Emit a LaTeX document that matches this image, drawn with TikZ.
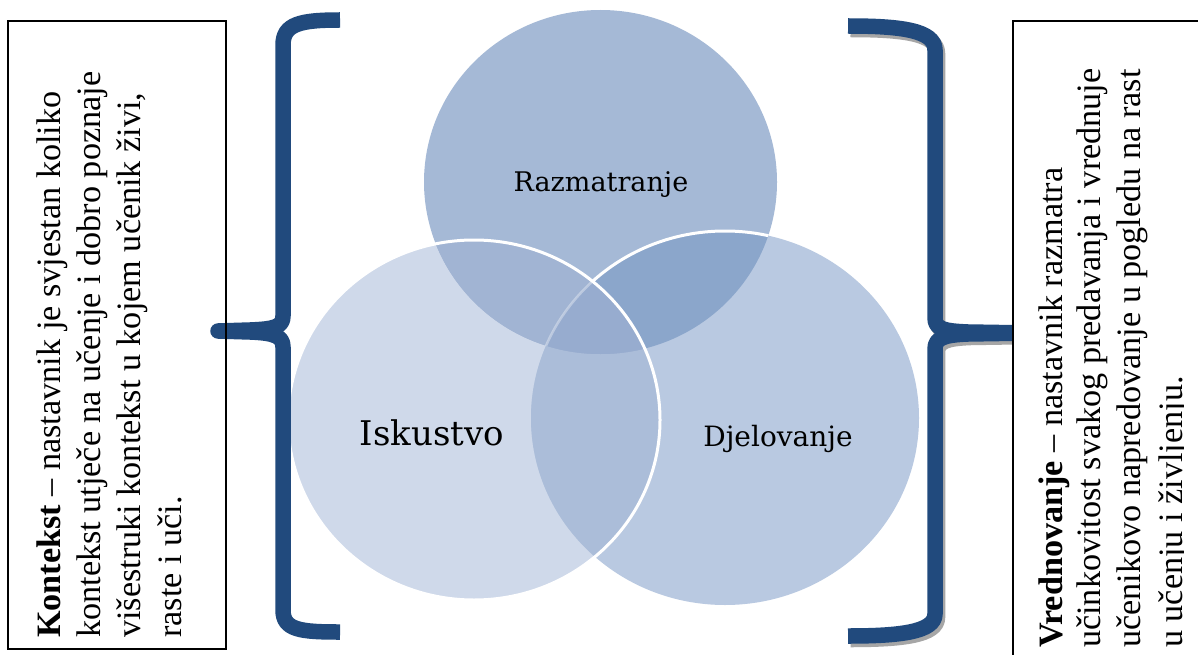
\documentclass[tikz,border=0pt]{standalone}
\usepackage{fontspec}
\setmainfont{Liberation Serif}
\newfontfamily\lblfont{DejaVu Serif}
\definecolor{braceblue}{RGB}{33,74,125}
\definecolor{shadowgray}{RGB}{166,166,166}
\definecolor{cT}{HTML}{A5B9D6}
\definecolor{cL}{HTML}{CFD9EA}
\definecolor{cR}{HTML}{B9C9E1}
\definecolor{cTL}{HTML}{A1B4D3}
\definecolor{cTR}{HTML}{8BA6CB}
\definecolor{cLR}{HTML}{ABBDD9}
\definecolor{cTLR}{HTML}{97ACCF}
\begin{document}
\begin{tikzpicture}[x=1pt,y=-1pt,
  bracestroke/.style={line width=15.5pt,line cap=butt,line join=round},
  boxtext/.style={rotate=90,anchor=base west,inner sep=0pt,font=\fontsize{34.2}{40}\selectfont},
  lbl/.style={anchor=base,inner sep=0pt,text=black},
  boxframe/.style={draw=black,line width=1.8pt}]
\useasboundingbox (0,0) rectangle (1198,655);
\fill[white] (0,0) rectangle (1198,655);
% ellipse definitions
\def\Tpath{(600.5,182) ellipse [x radius=176.5pt, y radius=172pt]}
\def\Lpath{(474,420) ellipse [x radius=186pt, y radius=180pt]}
\def\Rpath{(725,418) ellipse [x radius=194pt, y radius=187pt]}
% base fills
\fill[cT] \Tpath;
\fill[cL] \Lpath;
\fill[cR] \Rpath;
\begin{scope}\clip \Tpath; \fill[cTL] \Lpath; \end{scope}
\begin{scope}\clip \Tpath; \fill[cTR] \Rpath; \end{scope}
\begin{scope}\clip \Lpath; \fill[cLR] \Rpath; \end{scope}
\begin{scope}\clip \Tpath; \clip \Lpath; \fill[cTLR] \Rpath; \end{scope}
% white outline of right circle over top circle
\begin{scope}\clip \Tpath; \draw[white,line width=3pt] \Rpath; \end{scope}
% restore inside left circle
\begin{scope}\clip \Tpath; \clip \Lpath; \fill[cTL] \Lpath; \end{scope}
\begin{scope}\clip \Tpath; \clip \Lpath; \fill[cTLR] \Rpath; \end{scope}
\begin{scope}\clip \Tpath; \clip \Lpath; \draw[white,line width=2.5pt,opacity=0.35] \Rpath; \end{scope}
% white outline of left circle
\draw[white,line width=3pt] \Lpath;
% labels
\node[lbl,font=\lblfont\fontsize{27}{30}\selectfont] (raz) at (601,192) {Razmatranje};
\node[lbl,font=\lblfont\fontsize{34}{38}\selectfont] (isk) at (432,445) {Iskustvo};
\node[lbl,font=\lblfont\fontsize{28}{31}\selectfont] (dje) at (778,446) {Djelovanje};
% left brace
\draw[bracestroke,braceblue] (340,20) .. controls (300,20) and (283,24) .. (283,45)
  -- (283,316) .. controls (283,327) and (274,329) .. (250,330) -- (218,331)
  -- (250,332) .. controls (274,333) and (283,336) .. (283,347)
  -- (283,610) .. controls (283,630) and (300,632) .. (340,632);
% right brace shadow
\begin{scope}[shift={(2.5,3.5)}]
\draw[bracestroke,shadowgray] (848,26) .. controls (900,26) and (935,30) .. (935,50)
  -- (935,318) .. controls (935,329) and (944,331) .. (968,332) -- (1030,333)
  -- (968,334) .. controls (944,335) and (935,338) .. (935,349)
  -- (935,614) .. controls (935,632) and (900,636) .. (848,636);
\end{scope}
% right brace
\draw[bracestroke,braceblue] (848,26) .. controls (900,26) and (935,30) .. (935,50)
  -- (935,318) .. controls (935,329) and (944,331) .. (968,332) -- (1030,333)
  -- (968,334) .. controls (944,335) and (935,338) .. (935,349)
  -- (935,614) .. controls (935,632) and (900,636) .. (848,636);
% left box
\draw[boxframe] (8,21) rectangle (226,649);
\node[boxtext] (l1) at (60,638) {\textbf{Kontekst} – nastavnik je svjestan koliko};
\node[boxtext] (l2) at (100,638) {kontekst utječe na učenje i dobro poznaje};
\node[boxtext] (l3) at (140,638) {višestruki kontekst u kojem učenik živi,};
\node[boxtext] (l4) at (181,638) {raste i uči.};
% right box
\draw[boxframe,fill=white] (1013,21) rectangle (1240,700);
\node[boxtext] (r1) at (1062,648) {\textbf{Vrednovanje} – nastavnik razmatra};
\node[boxtext] (r2) at (1100,648) {učinkovitost svakog predavanja i vrednuje};
\node[boxtext] (r3) at (1140,648) {učenikovo napredovanje u pogledu na rast};
\begin{scope}
\clip (1150,0) rectangle (1183,655);
\node[boxtext] (r4) at (1182,648) {u učenju i življenju.};
\end{scope}
\end{tikzpicture}
\end{document}
